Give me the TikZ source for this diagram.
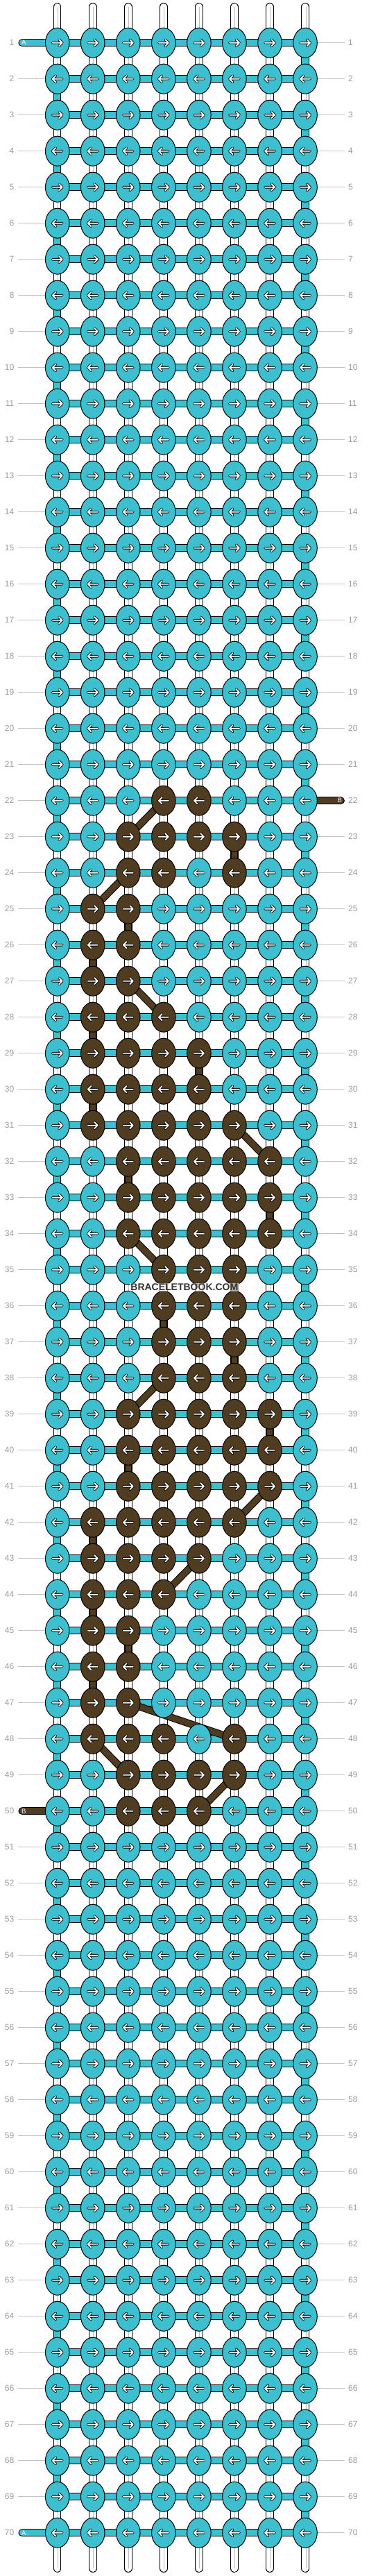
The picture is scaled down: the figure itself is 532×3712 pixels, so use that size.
\documentclass[tikz,border=0pt]{standalone}
\usepackage{fontspec}
\setmainfont{Liberation Sans}
\usetikzlibrary{shapes.geometric}
\definecolor{tl}{HTML}{3EBFD0}
\definecolor{brn}{HTML}{4F3C21}
\definecolor{numgray}{HTML}{9A9A9A}
\definecolor{linegray}{HTML}{C4C4C4}
\definecolor{innergray}{HTML}{BDBDBD}
\pgfdeclarelayer{bgl}
\pgfdeclarelayer{warp}
\pgfdeclarelayer{conn}
\pgfdeclarelayer{top}
\pgfsetlayers{bgl,warp,conn,main,top}
\newif\ifisbrown
\newcommand\defbrownrow[2]{\expandafter\def\csname brw#1\endcsname{#2}}
\defbrownrow{22}{4,5}
\defbrownrow{23}{3,4,5,6}
\defbrownrow{24}{3,4,6}
\defbrownrow{25}{2,3}
\defbrownrow{26}{2,3}
\defbrownrow{27}{2,3}
\defbrownrow{28}{2,3,4}
\defbrownrow{29}{2,3,4,5}
\defbrownrow{30}{2,3,4,5}
\defbrownrow{31}{2,3,4,5,6}
\defbrownrow{32}{3,4,5,6,7}
\defbrownrow{33}{3,4,5,6,7}
\defbrownrow{34}{3,4,5,6,7}
\defbrownrow{35}{4,5,6}
\defbrownrow{36}{4,5,6}
\defbrownrow{37}{4,5,6}
\defbrownrow{38}{4,5,6}
\defbrownrow{39}{3,4,5,6,7}
\defbrownrow{40}{3,4,5,6,7}
\defbrownrow{41}{3,4,5,6,7}
\defbrownrow{42}{2,3,4,5,6}
\defbrownrow{43}{2,3,4,5}
\defbrownrow{44}{2,3,4}
\defbrownrow{45}{2,3}
\defbrownrow{46}{2,3}
\defbrownrow{47}{2,3}
\defbrownrow{48}{2,3,4,6}
\defbrownrow{49}{3,4,5,6}
\defbrownrow{50}{3,4,5}
\tikzset{
  knot/.style={ellipse, draw=black, line width=1pt, minimum width=34.5pt, minimum height=43pt, inner sep=0pt},
  tealbar/.style={draw=black, double=tl, line width=1pt, double distance=9.2pt},
  brownbar/.style={draw=black, double=brn, line width=1pt, double distance=8.5pt},
  warpstr/.style={draw=black, double=white, line width=1pt, double distance=9.5pt, line cap=round},
  innerline/.style={draw=innergray, line width=1pt},
  rowline/.style={draw=linegray, line width=1pt},
  numlbl/.style={text=numgray, font=\fontsize{12}{14}\selectfont, inner sep=0pt},
  taillbl/.style={text=white, font=\fontsize{9.5}{11}\selectfont, inner sep=0pt},
  arrowline/.style={line cap=round, line join=round},
  rarr/.pic={
    \draw[arrowline, black, line width=3.6pt] (-7,0)--(7,0) (2.4,-4.6)--(7,0)--(2.4,4.6);
    \draw[arrowline, white, line width=1.8pt] (-7,0)--(7,0) (2.4,-4.6)--(7,0)--(2.4,4.6);},
  larr/.pic={
    \draw[arrowline, black, line width=3.6pt] (7,0)--(-7,0) (-2.4,-4.6)--(-7,0)--(-2.4,4.6);
    \draw[arrowline, white, line width=1.8pt] (7,0)--(-7,0) (-2.4,-4.6)--(-7,0)--(-2.4,4.6);}
}
\begin{document}
\begin{tikzpicture}[x=1pt, y=-1pt]
\begin{pgfonlayer}{bgl}
  \path[use as bounding box, fill=white] (0,0) rectangle (532,3712);
\end{pgfonlayer}
% knots
\foreach \r in {1,...,70}{
  \pgfmathsetmacro\yy{61.7+52*(\r-1)}
  \foreach \c in {1,...,8}{
    \pgfmathsetmacro\xx{82.7+51.05*(\c-1)}
    \global\isbrownfalse
    \ifcsname brw\r\endcsname
      \edef\tmplist{\csname brw\r\endcsname}
      \foreach \b in \tmplist {\ifnum\b=\c\relax\global\isbrowntrue\fi}
    \fi
    \ifisbrown\def\kc{brn}\else\def\kc{tl}\fi
    \node[knot, fill=\kc] (k-\r-\c) at (\xx,\yy) {};
    \ifodd\r\relax
      \pic at (k-\r-\c.center) {rarr};
    \else
      \pic at (k-\r-\c.center) {larr};
    \fi
  }
}
% warp strings, row lines, numbers
\begin{pgfonlayer}{warp}
  \foreach \c in {1,...,8}{
    \pgfmathsetmacro\xx{82.7+51.05*(\c-1)}
    \coordinate (wt-\c) at (\xx,9.8);
    \coordinate (wb-\c) at (\xx,3701.2);
    \draw[warpstr] (wt-\c) -- (wb-\c);
    \draw[innerline] ([xshift=1pt]wt-\c) -- ([xshift=1pt]wb-\c);
  }
  \foreach \r in {1,...,70}{
    \pgfmathsetmacro\yy{61.7+52*(\r-1)}
    \coordinate (ll-\r) at (26,\yy);
    \coordinate (lr-\r) at (497,\yy);
    \draw[rowline] (ll-\r) -- (k-\r-1.west);
    \draw[rowline] (k-\r-8.east) -- (lr-\r);
    \node[numlbl, anchor=east] (nl-\r) at (20.5,\yy) {\r};
    \node[numlbl, anchor=west] (nr-\r) at (502,\yy) {\r};
  }
\end{pgfonlayer}
% connectors
\begin{pgfonlayer}{conn}
  \foreach \r in {1,...,70}{
    \draw[tealbar] (k-\r-1.center) -- (k-\r-8.center);
  }
  \foreach \r in {1,...,69}{
    \pgfmathtruncatemacro\rn{\r+1}
    \ifodd\r\relax
      \draw[tealbar] (k-\r-8.center) -- (k-\rn-8.center);
    \else
      \draw[tealbar] (k-\r-1.center) -- (k-\rn-1.center);
    \fi
  }
  \foreach \r/\c in {23/6,25/3,26/2,28/2,29/5,30/2,32/3,33/7,35/6,36/4,37/6,39/7,40/3,42/2,44/2,45/3,46/2}{
    \pgfmathtruncatemacro\rn{\r+1}
    \draw[brownbar] (k-\r-\c.center) -- (k-\rn-\c.center);
  }
  \foreach \ra/\ca/\rb/\cb in {22/4/23/3,24/3/25/2,27/3/28/4,31/6/32/7,34/3/35/4,38/4/39/3,41/7/42/6,43/5/44/4,47/3/48/6,48/2/49/3,49/6/50/5}{
    \draw[brownbar] (k-\ra-\ca.center) -- (k-\rb-\cb.center);
  }
  % tails
  \coordinate (ta1) at (32.1,61.7);
  \draw[tealbar, line cap=round] (ta1) -- (k-1-1.center);
  \node[taillbl] (la1) at (34.3,61.7) {A};
  \coordinate (ta70) at (32.1,3649.7);
  \draw[tealbar, line cap=round] (ta70) -- (k-70-1.center);
  \node[taillbl] (la70) at (34.3,3649.7) {A};
  \coordinate (tb22) at (491.2,1153.7);
  \draw[brownbar, double distance=9.2pt, line cap=round] (k-22-8.center) -- (tb22);
  \node[taillbl] (lb22) at (489.7,1153.7) {B};
  \coordinate (tb50) at (32.1,2609.7);
  \draw[brownbar, double distance=9.2pt, line cap=round] (tb50) -- (k-50-1.center);
  \node[taillbl] (lb50) at (34.3,2609.7) {B};
\end{pgfonlayer}
\begin{pgfonlayer}{top}
  \node[fill=white, fill opacity=0.6, text opacity=1, text=black!80, font=\bfseries\fontsize{14}{16}\selectfont, inner sep=1.5pt] (wm) at (265.8,1855) {BRACELETBOOK.COM};
\end{pgfonlayer}
\end{tikzpicture}
\end{document}
